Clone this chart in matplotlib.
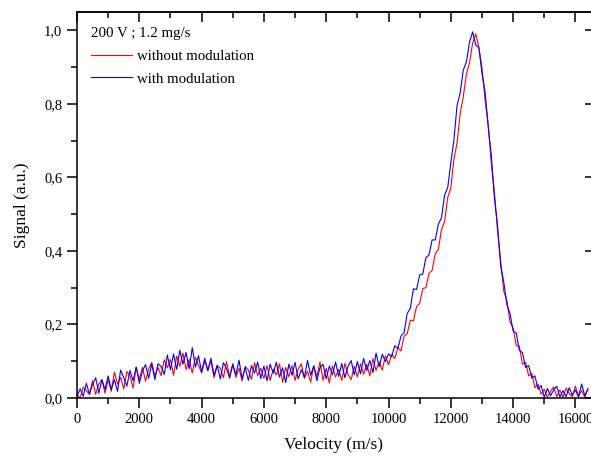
import numpy as np
import matplotlib
matplotlib.use("Agg")
import matplotlib.pyplot as plt
from matplotlib.ticker import MultipleLocator, FuncFormatter, NullLocator

# velocity grid (m/s), one reading every 100 m/s
velocity = np.arange(0, 16500, 100)

# signal, red trace (without modulation)
signal_without = [
    0.010, 0.000, 0.030, 0.020, 0.010, 0.047, 0.010, 0.038, 0.050, 0.013,
    0.050, 0.018, 0.070, 0.038, 0.056, 0.025, 0.072, 0.060, 0.027, 0.084,
    0.050, 0.083, 0.046, 0.079, 0.097, 0.060, 0.083, 0.061, 0.104, 0.082,
    0.105, 0.062, 0.114, 0.086, 0.122, 0.077, 0.105, 0.068, 0.111, 0.089,
    0.068, 0.101, 0.074, 0.102, 0.055, 0.088, 0.081, 0.055, 0.099, 0.058,
    0.091, 0.056, 0.081, 0.046, 0.086, 0.076, 0.051, 0.096, 0.061, 0.081,
    0.053, 0.088, 0.048, 0.078, 0.063, 0.093, 0.043, 0.083, 0.058, 0.088,
    0.048, 0.078, 0.093, 0.053, 0.073, 0.043, 0.088, 0.058, 0.098, 0.048,
    0.081, 0.041, 0.087, 0.057, 0.078, 0.048, 0.094, 0.064, 0.050, 0.086,
    0.057, 0.093, 0.065, 0.092, 0.060, 0.107, 0.075, 0.098, 0.076, 0.115,
    0.090, 0.119, 0.107, 0.137, 0.128, 0.168, 0.175, 0.212, 0.210, 0.249,
    0.257, 0.298, 0.300, 0.339, 0.347, 0.392, 0.404, 0.458, 0.480, 0.545,
    0.572, 0.650, 0.694, 0.773, 0.820, 0.881, 0.912, 0.965, 0.990, 0.954,
    0.898, 0.810, 0.746, 0.637, 0.560, 0.454, 0.373, 0.290, 0.265, 0.207,
    0.190, 0.143, 0.140, 0.092, 0.097, 0.060, 0.067, 0.028, 0.038, 0.010,
    0.024, 0.002, 0.018, 0.030, 0.004, 0.022, 0.002, 0.027, 0.012, 0.004,
    0.032, 0.006, 0.020, 0.002, 0.026,
]

# blue trace (with modulation)
signal_with = [
    0.005, 0.025, 0.005, 0.040, 0.010, 0.037, 0.055, 0.013, 0.050, 0.023,
    0.060, 0.023, 0.050, 0.018, 0.076, 0.055, 0.032, 0.075, 0.047, 0.084,
    0.040, 0.073, 0.091, 0.054, 0.092, 0.050, 0.093, 0.086, 0.064, 0.117,
    0.077, 0.120, 0.078, 0.130, 0.092, 0.124, 0.079, 0.137, 0.084, 0.115,
    0.071, 0.108, 0.075, 0.108, 0.061, 0.089, 0.052, 0.096, 0.080, 0.054,
    0.093, 0.063, 0.103, 0.053, 0.083, 0.048, 0.088, 0.068, 0.098, 0.053,
    0.087, 0.047, 0.092, 0.067, 0.097, 0.057, 0.082, 0.042, 0.092, 0.062,
    0.097, 0.052, 0.077, 0.057, 0.102, 0.062, 0.087, 0.047, 0.082, 0.092,
    0.052, 0.087, 0.063, 0.098, 0.059, 0.094, 0.055, 0.086, 0.102, 0.063,
    0.099, 0.066, 0.108, 0.075, 0.102, 0.069, 0.122, 0.085, 0.119, 0.099,
    0.120, 0.112, 0.142, 0.135, 0.168, 0.178, 0.230, 0.244, 0.297, 0.295,
    0.335, 0.337, 0.382, 0.389, 0.430, 0.430, 0.473, 0.490, 0.552, 0.572,
    0.640, 0.702, 0.796, 0.830, 0.892, 0.914, 0.968, 0.996, 0.960, 0.953,
    0.884, 0.834, 0.737, 0.660, 0.543, 0.470, 0.360, 0.315, 0.254, 0.230,
    0.182, 0.177, 0.130, 0.123, 0.083, 0.088, 0.054, 0.060, 0.024, 0.034,
    0.002, 0.026, 0.006, 0.022, 0.032, 0.002, 0.020, 0.004, 0.028, 0.008,
    0.022, 0.002, 0.038, 0.006, 0.024,
]

LEGEND_TITLE = "200 V ; 1.2 mg/s"

plt.rcParams['font.family'] = ['Liberation Serif', 'DejaVu Serif']
plt.rcParams['axes.linewidth'] = 1.1

fig = plt.figure(figsize=(5.91, 4.59), dpi=100)
ax = fig.add_axes([77 / 591, 61 / 459, 514 / 591, 386 / 459])

ax.plot(velocity, signal_without, color='#ff0000', lw=0.8, label='without modulation')
ax.plot(velocity, signal_with, color='#0000ff', lw=0.8, label='with modulation')

ax.set_xlim(0, 16500)
ax.set_ylim(0, 1.05)

comma = FuncFormatter(lambda y, pos: f"{y:.1f}".replace('.', ','))
ax.xaxis.set_major_locator(MultipleLocator(2000))
ax.xaxis.set_minor_locator(MultipleLocator(1000))
ax.yaxis.set_major_locator(MultipleLocator(0.2))
ax.yaxis.set_minor_locator(MultipleLocator(0.1))
ax.yaxis.set_major_formatter(comma)
ax.tick_params(which='major', direction='out', length=7, width=1.1, labelsize=10.5)
ax.tick_params(which='minor', direction='out', length=4, width=1.1)
ax.spines['right'].set_visible(False)

# mirrored ticks pointing inward on top, short stubs on the cropped right edge
top = ax.secondary_xaxis('top')
top.xaxis.set_major_locator(MultipleLocator(2000))
top.xaxis.set_minor_locator(MultipleLocator(1000))
top.tick_params(which='major', direction='in', length=7, width=1.1, labeltop=False)
top.tick_params(which='minor', direction='in', length=4, width=1.1)

right = ax.secondary_yaxis('right')
right.yaxis.set_major_locator(MultipleLocator(0.2))
right.yaxis.set_minor_locator(NullLocator())
right.tick_params(which='major', direction='in', length=4, width=1.1, labelright=False)
right.spines['right'].set_visible(False)

ax.set_xlabel('Velocity (m/s)', fontsize=12.5, labelpad=8)
ax.set_ylabel('Signal (a.u.)', fontsize=12.5, labelpad=10)

leg = ax.legend(loc='upper left', bbox_to_anchor=(0.027, 0.96), frameon=False,
                title=LEGEND_TITLE, title_fontsize=10.7, fontsize=10.7,
                alignment='left', borderpad=0, borderaxespad=0,
                handlelength=2.75, handletextpad=0.35, labelspacing=0.62)

fig.savefig('out.png', dpi=100)
